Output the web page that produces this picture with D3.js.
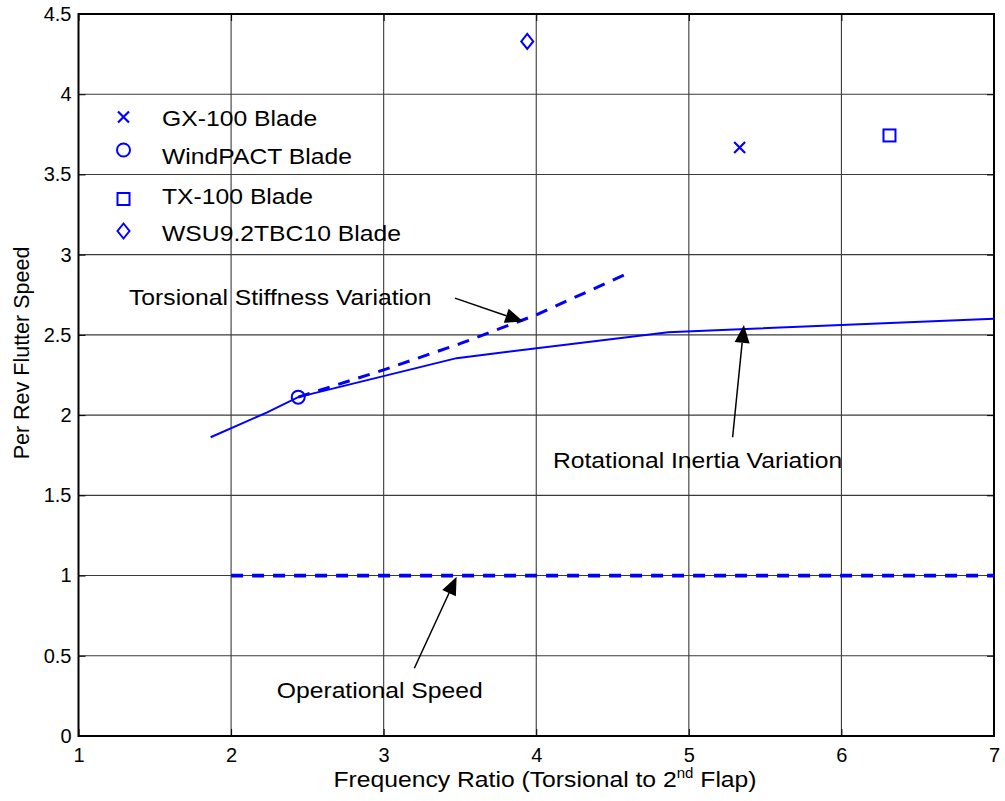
<!DOCTYPE html>
<html>
<head>
<meta charset="utf-8">
<script src="https://cdn.jsdelivr.net/npm/d3@7"></script>
<style>
  html, body { margin: 0; padding: 0; background: #fff; }
  svg { display: block; font-family: "Liberation Sans", Arial, sans-serif; }
</style>
</head>
<body>
<svg id="chart" width="1005" height="801"></svg>
<script>
// Axis ticks
const xTicks = [1, 2, 3, 4, 5, 6, 7];
const yTicks = [0, 0.5, 1, 1.5, 2, 2.5, 3, 3.5, 4, 4.5];

// Rotational inertia variation (solid)
const inertiaX = [1.866, 2.233, 2.440, 3.478, 4.865, 7.0];
const inertiaY = [1.862, 2.016, 2.112, 2.355, 2.517, 2.600];

// Torsional stiffness variation (dashed)
const stiffX = [2.440, 3.0, 3.5, 4.0, 4.592];
const stiffY = [2.112, 2.282, 2.445, 2.625, 2.880];

// Operational speed (1 per rev)
const operX = [2, 7];
const operY = [1, 1];

// Blade design points
const bladeNames = ["GX-100 Blade", "WindPACT Blade", "TX-100 Blade", "WSU9.2TBC10 Blade"];
const bladeShapes = ["x", "circle", "square", "diamond"];
const bladeX = [5.333, 2.440, 6.315, 3.941];
const bladeY = [3.668, 2.112, 3.743, 4.329];

// Annotations: label start, arrow tail, arrow tip (data units)
const noteText = ["Torsional Stiffness Variation", "Rotational Inertia Variation", "Operational Speed"];
const noteLabelX = [1.331, 4.109, 2.299];
const noteLabelY = [2.687, 1.671, 0.235];
const noteTailX = [3.467, 5.287, 3.201];
const noteTailY = [2.729, 1.862, 0.422];
const noteTipX = [3.915, 5.361, 3.478];
const noteTipY = [2.583, 2.562, 0.993];

const svg = d3.select("#chart");
const m = { left: 78.5, right: 994, top: 14, bottom: 736 };
const x = d3.scaleLinear().domain([1, 7]).range([m.left, m.right]);
const y = d3.scaleLinear().domain([0, 4.5]).range([m.bottom, m.top]);
const blue = "#0000ff";
const stretch = 1.075; // slightly wide glyphs

svg.append("defs").append("clipPath").attr("id", "plotclip")
  .append("rect").attr("x", m.left).attr("y", m.top)
  .attr("width", m.right - m.left).attr("height", m.bottom - m.top);

// Grid
const grid = svg.append("g").attr("stroke", "#3a3a3a").attr("stroke-width", 1.1);
grid.selectAll(".gx").data(xTicks.slice(1, -1)).join("line")
  .attr("x1", d => x(d)).attr("x2", d => x(d)).attr("y1", m.top).attr("y2", m.bottom);
grid.selectAll(".gy").data(yTicks.slice(1, -1)).join("line")
  .attr("y1", d => y(d)).attr("y2", d => y(d)).attr("x1", m.left).attr("x2", m.right);

// Axes with inward ticks
const fmt = d => d3.format("")(d);
const axB = svg.append("g").attr("transform", `translate(0,${m.bottom})`)
  .call(d3.axisBottom(x).tickValues(xTicks).tickFormat(fmt).tickSizeInner(-7).tickSizeOuter(0).tickPadding(12));
const axL = svg.append("g").attr("transform", `translate(${m.left},0)`)
  .call(d3.axisLeft(y).tickValues(yTicks).tickFormat(fmt).tickSizeInner(-7).tickSizeOuter(0).tickPadding(7));
const axT = svg.append("g").attr("transform", `translate(0,${m.top})`)
  .call(d3.axisTop(x).tickValues(xTicks).tickFormat("").tickSizeInner(-7).tickSizeOuter(0));
const axR = svg.append("g").attr("transform", `translate(${m.right},0)`)
  .call(d3.axisRight(y).tickValues(yTicks).tickFormat("").tickSizeInner(-7).tickSizeOuter(0));
[axB, axL, axT, axR].forEach(a => {
  a.select(".domain").remove();
  a.selectAll(".tick line").attr("stroke", "#000").attr("stroke-width", 1);
  a.selectAll("text").attr("font-size", 20).attr("fill", "#000")
    .attr("font-family", "Liberation Sans, Arial, sans-serif");
});
axB.selectAll("text").attr("dy", "0.71em");

// Frame
svg.append("rect").attr("x", m.left).attr("y", m.top)
  .attr("width", m.right - m.left).attr("height", m.bottom - m.top)
  .attr("fill", "none").attr("stroke", "#000").attr("stroke-width", 2);

// Lines
const line = d3.line().x(d => x(d[0])).y(d => y(d[1]));
const plot = svg.append("g").attr("clip-path", "url(#plotclip)");
plot.append("path").datum(d3.zip(inertiaX, inertiaY)).attr("d", line)
  .attr("fill", "none").attr("stroke", blue).attr("stroke-width", 2);
plot.append("path").datum(d3.zip(stiffX, stiffY)).attr("d", line)
  .attr("fill", "none").attr("stroke", blue).attr("stroke-width", 3)
  .attr("stroke-dasharray", "12,9");
plot.append("path").datum(d3.zip(operX, operY)).attr("d", line)
  .attr("fill", "none").attr("stroke", blue).attr("stroke-width", 3.8)
  .attr("stroke-dasharray", "12,9");

// Marker drawing
function marker(g, shape, cx, cy) {
  const s = g.append("g").attr("transform", `translate(${cx},${cy})`)
    .attr("fill", "none").attr("stroke", blue).attr("stroke-width", 2);
  if (shape === "x") {
    s.append("path").attr("d", "M-5.5,-5.5L5.5,5.5M-5.5,5.5L5.5,-5.5").attr("stroke-width", 2.2);
  } else if (shape === "circle") {
    s.append("circle").attr("r", 6.5);
  } else if (shape === "square") {
    s.append("rect").attr("x", -6).attr("y", -6).attr("width", 12).attr("height", 12);
  } else if (shape === "diamond") {
    s.append("path").attr("d", "M0,-7.5L6,0L0,7.5L-6,0Z");
  }
}
bladeX.forEach((bx, i) => marker(svg, bladeShapes[i], x(bx), y(bladeY[i])));

// Text helper: places a label at (tx, ty) with a slight horizontal stretch
function label(g, tx, ty, size) {
  return g.append("text")
    .attr("transform", `translate(${tx},${ty}) scale(${stretch},1)`)
    .attr("font-size", size).attr("fill", "#000");
}

// Legend
const legMarkY = [117, 150, 199, 231];
const legTextY = [126, 164, 204, 241];
const leg = svg.append("g");
bladeNames.forEach((name, i) => {
  marker(leg, bladeShapes[i], 123.5, legMarkY[i]);
  label(leg, 162, legTextY[i], 23).text(name);
});

// Annotations with arrows
const ann = svg.append("g");
noteText.forEach((t, i) => {
  label(ann, x(noteLabelX[i]), y(noteLabelY[i]), 23).text(t);
  const x0 = x(noteTailX[i]), y0 = y(noteTailY[i]);
  const x1 = x(noteTipX[i]), y1 = y(noteTipY[i]);
  const ang = Math.atan2(y1 - y0, x1 - x0);
  const L = 18, W = 7.5;
  const bx = x1 - L * Math.cos(ang), by = y1 - L * Math.sin(ang);
  ann.append("line").attr("x1", x0).attr("y1", y0).attr("x2", bx).attr("y2", by)
    .attr("stroke", "#000").attr("stroke-width", 1.5);
  const px = -Math.sin(ang) * W, py = Math.cos(ang) * W;
  ann.append("path")
    .attr("d", `M${x1},${y1}L${bx + px},${by + py}L${bx - px},${by - py}Z`)
    .attr("fill", "#000");
});

// Axis titles
const xt = label(svg, 545, 787, 23).attr("text-anchor", "middle");
xt.append("tspan").text("Frequency Ratio (Torsional to 2");
xt.append("tspan").attr("font-size", 14).attr("dy", -9).text("nd");
xt.append("tspan").attr("dy", 9).text(" Flap)");

svg.append("text").attr("transform", `translate(29,353) rotate(-90)`)
  .attr("text-anchor", "middle").attr("font-size", 21.5).attr("fill", "#000")
  .text("Per Rev Flutter Speed");
</script>
</body>
</html>
